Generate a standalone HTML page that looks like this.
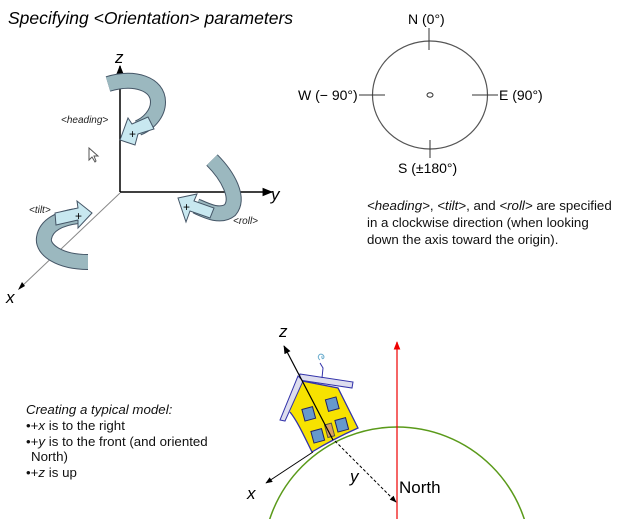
<!DOCTYPE html>
<html><head><style>
html,body{margin:0;padding:0;width:632px;height:519px;background:#fff;overflow:hidden;font-family:"Liberation Sans",sans-serif}
svg{display:block}
</style></head><body>
<svg width="632" height="519" viewBox="0 0 632 519" xmlns="http://www.w3.org/2000/svg" font-family="Liberation Sans, sans-serif">
<defs>
<marker id="ah" viewBox="0 0 10 10" refX="9" refY="5" markerWidth="7" markerHeight="7" orient="auto"><path d="M0,1 L10,5 L0,9 Z" fill="#000"/></marker>
<marker id="ahr" viewBox="0 0 10 10" refX="9" refY="5" markerWidth="7" markerHeight="7" orient="auto"><path d="M0,1 L10,5 L0,9 Z" fill="#e00"/></marker>
</defs>
<text x="8" y="24" font-size="17.5" font-style="italic">Specifying &lt;Orientation&gt; parameters</text>

<line x1="120" y1="192" x2="120" y2="66" stroke="#000" stroke-width="1.5" marker-end="url(#ah)"/>
<line x1="120" y1="192" x2="272" y2="192" stroke="#000" stroke-width="1.5" marker-end="url(#ah)"/>
<line x1="120" y1="193" x2="20" y2="288" stroke="#888" stroke-width="1" />
<path d="M18,290 l4,-8 l3,4 z" fill="#000"/>
<text x="115" y="63" font-size="17" font-style="italic">z</text>
<text x="271" y="200" font-size="17" font-style="italic">y</text>
<text x="6" y="303" font-size="17" font-style="italic">x</text>

<!-- heading ribbon -->
<path d="M108,84 C135,76 158,84 158,102 C158,114 148,124 138,128" fill="none" stroke="#456" stroke-width="16"/>
<path d="M108,84 C135,76 158,84 158,102 C158,114 148,124 138,128" fill="none" stroke="#9bb8bf" stroke-width="14"/>
<polygon points="120,140 128,118 132,124 148,117 154,129 138,134 135,145" fill="#c8e8f0" stroke="#456"/>
<text x="129" y="138" font-size="12">+</text>
<text x="61" y="123" font-size="10" font-style="italic" fill="#222">&lt;heading&gt;</text>
<!-- roll ribbon -->
<path d="M212,160 C228,176 240,198 230,210 C220,218 205,210 196,206" fill="none" stroke="#456" stroke-width="16"/>
<path d="M212,160 C228,176 240,198 230,210 C220,218 205,210 196,206" fill="none" stroke="#9bb8bf" stroke-width="14"/>
<polygon points="178,198 197,194 194,201 214,208 210,218 190,211 186,222" fill="#c8e8f0" stroke="#456"/>
<text x="183" y="211" font-size="12">+</text>
<text x="233" y="224" font-size="10" font-style="italic" fill="#222">&lt;roll&gt;</text>
<!-- tilt ribbon -->
<path d="M88,262 C60,262 42,250 44,238 C46,225 60,218 78,216" fill="none" stroke="#456" stroke-width="16"/>
<path d="M88,262 C60,262 42,250 44,238 C46,225 60,218 78,216" fill="none" stroke="#9bb8bf" stroke-width="14"/>
<polygon points="92,213 77,201 78,208 55,213 56,225 78,220 78,228" fill="#c8e8f0" stroke="#456"/>
<text x="75" y="220" font-size="12">+</text>
<text x="29" y="213" font-size="10" font-style="italic" fill="#222">&lt;tilt&gt;</text>
<path d="M89,148 L89,160 L92,157 L95,162 L96,161 L94,156 L98,156 Z" fill="#fff" stroke="#555"/>

<!-- compass -->
<ellipse cx="430" cy="95" rx="57.5" ry="54" fill="none" stroke="#555" stroke-width="1.2"/>
<line x1="429" y1="28" x2="429" y2="50" stroke="#333"/>
<line x1="359" y1="95" x2="385" y2="95" stroke="#333"/>
<line x1="472" y1="95" x2="498" y2="95" stroke="#333"/>
<line x1="430" y1="140" x2="430" y2="158" stroke="#333"/>
<ellipse cx="430" cy="95" rx="3" ry="2.2" fill="none" stroke="#333"/>
<text x="408" y="24" font-size="14">N (0°)</text>
<text x="298" y="100" font-size="14">W (− 90°)</text>
<text x="499" y="100" font-size="14">E (90°)</text>
<text x="398" y="173" font-size="14">S (±180°)</text>
<text font-size="13.3" fill="#111"><tspan x="367" y="210"><tspan font-style="italic">&lt;heading&gt;</tspan>, <tspan font-style="italic">&lt;tilt&gt;</tspan>, and <tspan font-style="italic">&lt;roll&gt;</tspan> are specified</tspan><tspan x="367" y="227">in a clockwise direction (when looking</tspan><tspan x="367" y="244">down the axis toward the origin).</tspan></text>

<text font-size="13.3" fill="#111"><tspan x="26" y="414" font-style="italic">Creating a typical model:</tspan><tspan x="26" y="430">•+<tspan font-style="italic">x</tspan> is to the right</tspan><tspan x="26" y="446">•+<tspan font-style="italic">y</tspan> is to the front (and oriented</tspan><tspan x="31" y="461">North)</tspan><tspan x="26" y="477">•+<tspan font-style="italic">z</tspan> is up</tspan></text>

<circle cx="397" cy="561" r="134" fill="none" stroke="#5a9a1a" stroke-width="1.5"/>
<line x1="397" y1="519" x2="397" y2="342" stroke="#e00" stroke-width="1.2" marker-end="url(#ahr)"/>
<g>
<path d="M297,380 L338,388 L358,428 C340,436 325,444 312,452 C305,438 298,422 290,412" fill="#f7e200" stroke="#33a" stroke-width="1.3"/>
<path d="M300,374 L353,382 L352,388 L299,380 Z" fill="#dde" stroke="#33a"/>
<path d="M298,376 L280,420 L285,421 L303,381 Z" fill="#dde" stroke="#33a"/>
<rect x="303" y="408" width="11" height="12" fill="#69c" stroke="#226" transform="rotate(-15 308 413)"/>
<rect x="327" y="398" width="11" height="12" fill="#69c" stroke="#226" transform="rotate(-15 333 405)"/>
<rect x="336" y="419" width="11" height="12" fill="#69c" stroke="#226" transform="rotate(-15 341 424)"/>
<rect x="312" y="430" width="11" height="12" fill="#69c" stroke="#226" transform="rotate(-15 317 435)"/>
<rect x="326" y="424" width="7" height="13" fill="#d9a060" stroke="#554" transform="rotate(-15 329 430)"/>
<path d="M322,378 L323,368 L320,363" fill="none" stroke="#33a"/>
<path d="M320,360 c-4,-3 0,-8 3,-5 c3,3 -2,6 -1,1" fill="none" stroke="#6ac" stroke-width="1"/>
</g>
<line x1="333" y1="440" x2="284" y2="346" stroke="#000" stroke-width="1.2" marker-end="url(#ah)"/>
<line x1="313" y1="452" x2="266" y2="483" stroke="#000" stroke-width="1" marker-end="url(#ah)"/>
<line x1="335" y1="441" x2="396" y2="502" stroke="#000" stroke-width="1" stroke-dasharray="3,2" marker-end="url(#ah)"/>
<text x="279" y="337" font-size="17" font-style="italic">z</text>
<text x="247" y="499" font-size="17" font-style="italic">x</text>
<text x="350" y="482" font-size="17" font-style="italic">y</text>
<text x="399" y="493" font-size="17">North</text>
</svg>
</body></html>
